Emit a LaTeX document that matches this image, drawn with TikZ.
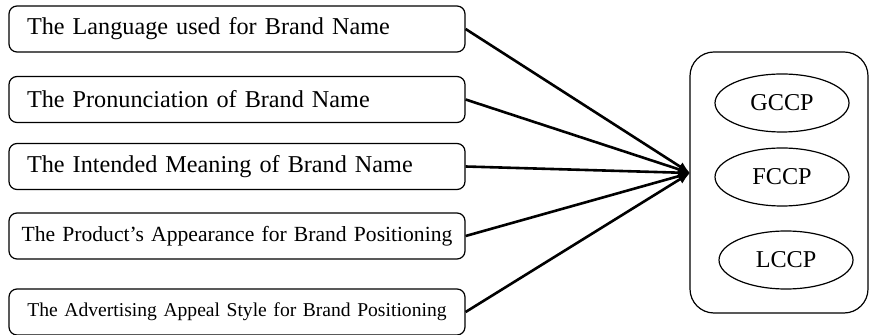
\documentclass[tikz,border=0pt]{standalone}
\usepackage{fontspec}
\setmainfont{Liberation Serif}
\usetikzlibrary{arrows.meta,shapes.geometric}

\begin{document}
\begin{tikzpicture}[x=0.5pt,y=-0.5pt,
  factor/.style={draw,rounded corners=4pt,line width=0.6pt,inner xsep=9pt,inner ysep=0pt,
    text width=210pt,minimum height=23pt,align=left,font=\fontsize{12.1}{15}\selectfont},
  wide/.style={inner xsep=3pt,text width=222pt,align=center},
  ccp/.style={draw,ellipse,line width=0.6pt,minimum width=67pt,minimum height=29pt,
    inner sep=0pt,font=\fontsize{12.1}{15}\selectfont},
  link/.style={line width=1.3pt,-{Latex[length=6pt,width=5pt]}}]
  \useasboundingbox (0,0) rectangle (870,335);

  \node[factor] (lang) at (237,29) {The Language used for Brand Name};
  \node[factor] (pron) at (237,99.5) {The Pronunciation of Brand Name};
  \node[factor] (mean) at (237,166.5) {The Intended Meaning of Brand Name};
  \node[factor,wide,font=\fontsize{10.8}{13}\selectfont]
    (look) at (237,236) {The Product’s Appearance for Brand Positioning};
  \node[factor,wide,font=\fontsize{9.8}{12}\selectfont]
    (appeal) at (237,312) {The Advertising Appeal Style for Brand Positioning};

  \node[draw,line width=0.6pt,rounded corners=12pt,minimum width=89pt,minimum height=130.5pt]
    (model) at (779,182.5) {};
  \node[ccp] (gccp) at (782,103) {GCCP};
  \node[ccp] (fccp) at (782,177) {FCCP};
  \node[ccp] (lccp) at (786,260) {LCCP};

  \coordinate (hub) at (690,173);
  \foreach \src in {lang,pron,mean,look,appeal}
    \draw[link] (\src.east) -- (hub);
\end{tikzpicture}
\end{document}
